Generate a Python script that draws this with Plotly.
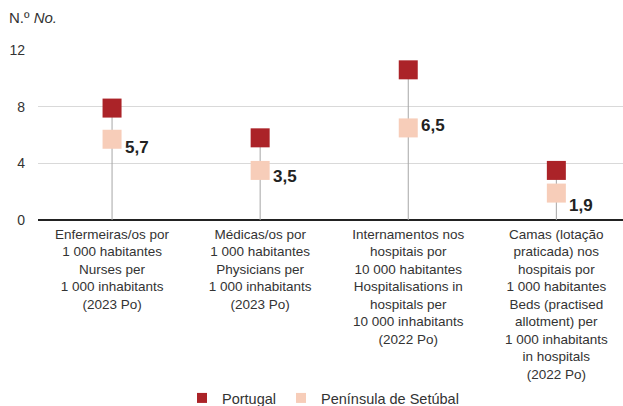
import plotly.graph_objects as go

categories = [
    "Enfermeiras/os por<br>1 000 habitantes<br>Nurses per<br>1 000 inhabitants<br>(2023 Po)",
    "Médicas/os por<br>1 000 habitantes<br>Physicians per<br>1 000 inhabitants<br>(2023 Po)",
    "Internamentos nos<br>hospitais por<br>10 000 habitantes<br>Hospitalisations in<br>hospitals per<br>10 000 inhabitants<br>(2022 Po)",
    "Camas (lotação<br>praticada) nos<br>hospitais por<br>1 000 habitantes<br>Beds (practised<br>allotment) per<br>1 000 inhabitants<br>in hospitals<br>(2022 Po)",
]
portugal = [7.9, 5.8, 10.6, 3.5]
setubal = [5.7, 3.5, 6.5, 1.9]
y_ticks = [0, 4, 8, 12]
series_names = ["Portugal", "Península de Setúbal"]

# styling
label_yshift = [-8, -6, 2, -12]
FONT = "Liberation Sans, Arial, sans-serif"
TXT = "#333333"
C_PT = "#ab2328"
C_ST = "#f7cdb9"

xs = list(range(len(categories)))

stem_x, stem_y = [], []
for i, v in zip(xs, portugal):
    stem_x += [i, i, None]
    stem_y += [0, v, None]

fig = go.Figure()
fig.add_trace(go.Scatter(x=stem_x, y=stem_y, mode="lines",
                         line=dict(color="#a6a6a6", width=1),
                         showlegend=False, hoverinfo="skip"))
for vals, name, col in [(portugal, series_names[0], C_PT), (setubal, series_names[1], C_ST)]:
    fig.add_trace(go.Scatter(x=xs, y=vals, mode="markers", name=name, showlegend=False,
                             marker=dict(symbol="square", size=19, color=col)))
# legend entries with small swatches
for name, col in [(series_names[0], C_PT), (series_names[1], C_ST)]:
    fig.add_trace(go.Scatter(x=[None], y=[None], mode="markers", name=name,
                             marker=dict(symbol="square", size=10, color=col)))

for i, v, ys in zip(xs, setubal, label_yshift):
    fig.add_annotation(x=i, y=v, text="<b>" + f"{v:.1f}".replace(".", ",") + "</b>",
                       showarrow=False, xanchor="left", yanchor="middle",
                       xshift=11, yshift=ys,
                       font=dict(family=FONT, size=17, color="#222222"))

fig.add_annotation(xref="paper", yref="paper", x=0, y=1, xanchor="left", yanchor="middle",
                   xshift=-31, yshift=33, text="N.º <i>No.</i>", showarrow=False,
                   font=dict(family=FONT, size=15, color=TXT))

fig.update_layout(
    width=623, height=406,
    margin=dict(l=38, r=0, t=50, b=186, autoexpand=False),
    paper_bgcolor="white", plot_bgcolor="white",
    font=dict(family=FONT, size=14, color=TXT),
    xaxis=dict(range=[-0.5, 3.45], tickvals=xs, ticktext=categories,
               showgrid=False, zeroline=False, showline=False, automargin=False,
               ticks="", ticklabelstandoff=4,
               tickfont=dict(family=FONT, size=13.5, color=TXT)),
    yaxis=dict(range=[0, 12], tickvals=y_ticks, showgrid=True,
               gridcolor="#d9d9d9", gridwidth=1, automargin=False,
               zeroline=True, zerolinecolor="#222222", zerolinewidth=2,
               showline=False, ticks="", ticklabelstandoff=12,
               tickfont=dict(family=FONT, size=14, color=TXT)),
    legend=dict(orientation="h", xref="container", yref="container",
                x=182 / 623, xanchor="left", y=1 - 398 / 406, yanchor="middle",
                font=dict(family=FONT, size=14.5, color=TXT),
                itemwidth=30, tracegroupgap=0),
    showlegend=True,
)

fig.write_html("out.html", config={"displayModeBar": False},
               post_script="document.body.style.margin='0';")
